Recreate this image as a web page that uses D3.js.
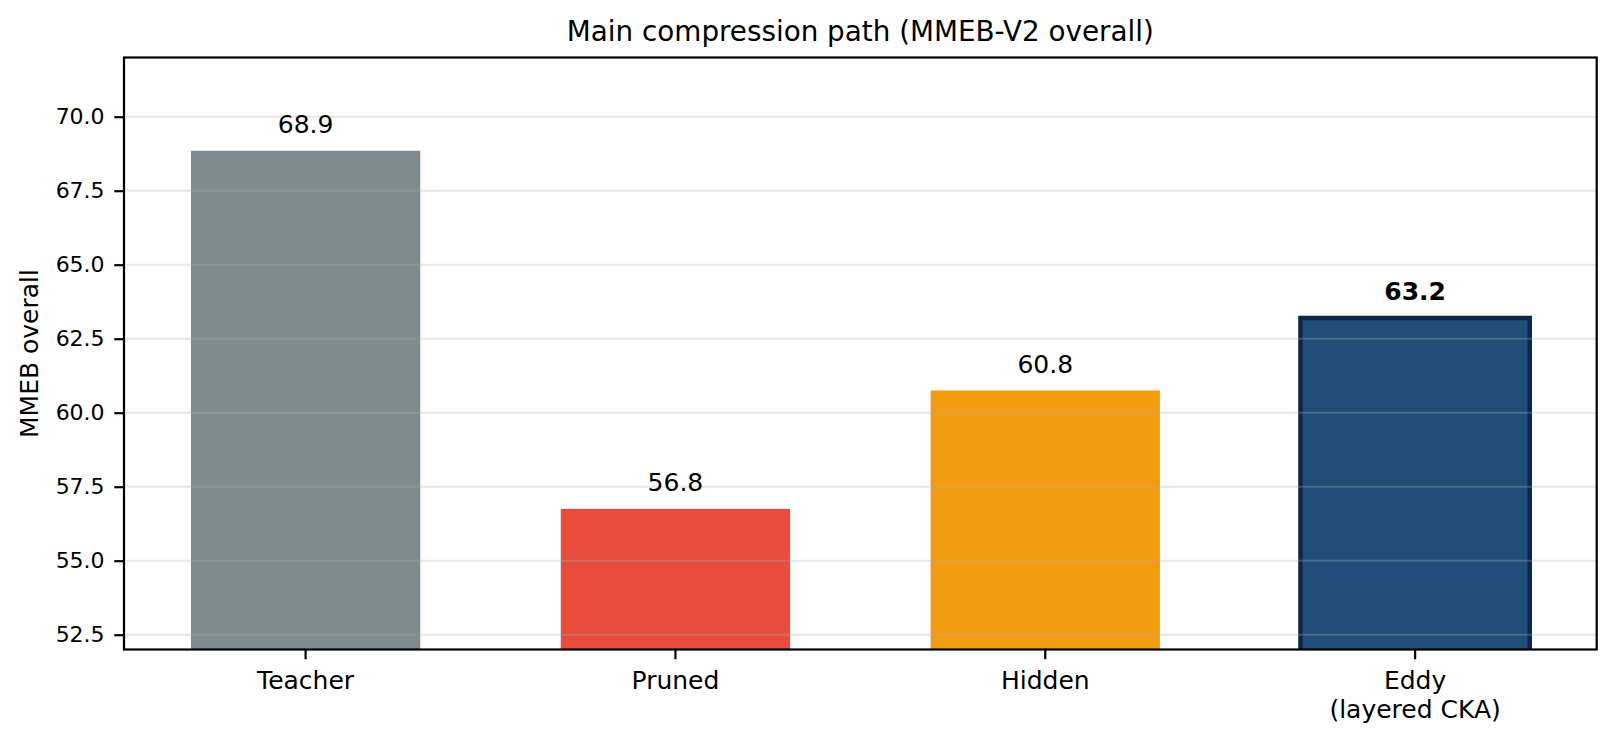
<!DOCTYPE html>
<html>
<head>
<meta charset="utf-8">
<script src="https://cdn.jsdelivr.net/npm/d3@7"></script>
<style>
  body { margin: 0; background: #fff; }
  text { font-family: "DejaVu Sans", sans-serif; fill: #000; }
</style>
</head>
<body>
<svg id="chart" width="1616" height="741"></svg>
<script>
// chart data
var categories = ["Teacher", "Pruned", "Hidden", "Eddy\n(layered CKA)"];
var values = [68.85, 56.75, 60.75, 63.2];
var barColors = ["#7f8c8d", "#e74c3c", "#f39c12", "#1f4e79"];
var highlight = [false, false, false, true];
var yTicks = [52.5, 55.0, 57.5, 60.0, 62.5, 65.0, 67.5, 70.0];
var yDomain = [52, 72];
var title = "Main compression path (MMEB-V2 overall)";
var yLabel = "MMEB overall";

var svg = d3.select("#chart"),
  margin = {left: 124, right: 1616 - 1596.7, top: 57.5, bottom: 741 - 649.5},
  width = 1616 - margin.left - margin.right,
  height = 741 - margin.top - margin.bottom;

var g = svg.append("g").attr("transform", "translate(" + margin.left + "," + margin.top + ")");

// clip marks to the axes area
g.append("clipPath").attr("id", "plotClip")
  .append("rect").attr("width", width).attr("height", height);

// bar width 0.62 in category units, matplotlib-like 5% margins
var barW = 0.62;
var span = (categories.length - 1) + barW;
var x = d3.scaleLinear()
  .domain([-barW / 2 - 0.05 * span, categories.length - 1 + barW / 2 + 0.05 * span])
  .range([0, width]);
var y = d3.scaleLinear().domain(yDomain).range([height, 0]);

var fmt = function(v) { return (Math.round(v * 10 + 1e-6) / 10).toFixed(1); };

var plot = g.append("g").attr("clip-path", "url(#plotClip)");

// bars
plot.selectAll(".bar").data(values).enter().append("rect")
  .attr("class", "bar")
  .attr("x", function(d, i) { return x(i - barW / 2); })
  .attr("width", x(barW) - x(0))
  .attr("y", function(d) { return y(d); })
  .attr("height", function(d) { return height - y(d) + 10; })
  .attr("fill", function(d, i) { return barColors[i]; })
  .attr("stroke", function(d, i) { return highlight[i] ? "#0e2747" : "none"; })
  .attr("stroke-width", 4.5);

// grid on top of bars
plot.selectAll(".grid").data(yTicks).enter().append("line")
  .attr("class", "grid")
  .attr("x1", 0).attr("x2", width)
  .attr("y1", function(d) { return y(d); })
  .attr("y2", function(d) { return y(d); })
  .attr("stroke", "#b0b0b0")
  .attr("stroke-opacity", 0.3)
  .attr("stroke-width", 2);

// value labels
g.selectAll(".val").data(values).enter().append("text")
  .attr("class", "val")
  .attr("x", function(d, i) { return x(i); })
  .attr("y", function(d) { return y(d) - 18; })
  .attr("text-anchor", "middle")
  .style("font-size", "25px")
  .style("font-weight", function(d, i) { return highlight[i] ? "bold" : "normal"; })
  .text(fmt);

// y axis
var yAxis = g.append("g").call(d3.axisLeft(y).tickValues(yTicks).tickFormat(d3.format(".1f")).tickSize(9.7).tickPadding(9.7));
yAxis.select(".domain").remove();
yAxis.selectAll(".tick line").attr("stroke", "#000").attr("stroke-width", 2.2);
yAxis.selectAll(".tick text").style("font-size", "22px").style("font-family", "DejaVu Sans");

// x axis ticks and labels
var xTick = g.selectAll(".xtick").data(categories).enter().append("g")
  .attr("class", "xtick")
  .attr("transform", function(d, i) { return "translate(" + x(i) + "," + height + ")"; });
xTick.append("line").attr("y2", 9.7).attr("stroke", "#000").attr("stroke-width", 2.2);
xTick.each(function(d) {
  var lines = d.split("\n");
  var t = d3.select(this).append("text").attr("text-anchor", "middle").style("font-size", "25px");
  lines.forEach(function(l, k) {
    t.append("tspan").attr("x", 0).attr("y", 39.5 + k * 29).text(l);
  });
});

// spines
g.append("rect").attr("width", width).attr("height", height)
  .attr("fill", "none").attr("stroke", "#000").attr("stroke-width", 2.2);

// title and y label
svg.append("text")
  .attr("x", margin.left + width / 2).attr("y", 41)
  .attr("text-anchor", "middle")
  .style("font-size", "27.8px")
  .text(title);

svg.append("text")
  .attr("transform", "translate(38," + (margin.top + height / 2) + ") rotate(-90)")
  .attr("text-anchor", "middle")
  .style("font-size", "25px")
  .text(yLabel);
</script>
</body>
</html>
